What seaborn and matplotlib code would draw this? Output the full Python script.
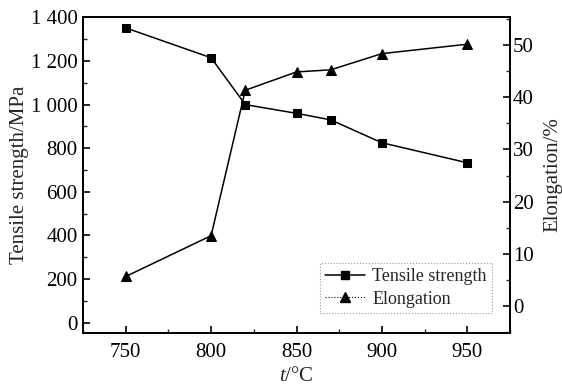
import matplotlib
matplotlib.use("Agg")
import matplotlib.pyplot as plt
import seaborn as sns
import pandas as pd
from matplotlib.ticker import MultipleLocator, FuncFormatter
from matplotlib.lines import Line2D

temperature = [750, 800, 820, 850, 870, 900, 950]
tensile_strength = [1352, 1215, 1000, 960, 930, 825, 733]
elongation = [5.7, 13.5, 41.3, 44.8, 45.2, 48.3, 50.1]

sns.set_theme(style="white")
plt.rcParams['font.family'] = ['Liberation Serif', 'DejaVu Serif']
plt.rcParams['mathtext.fontset'] = 'custom'
plt.rcParams['mathtext.it'] = 'Liberation Serif:italic'
plt.rcParams['mathtext.rm'] = 'Liberation Serif'

df = pd.DataFrame({"t": temperature, "ts": tensile_strength, "el": elongation})

fig = plt.figure(figsize=(5.62, 3.91), dpi=100)
ax = fig.add_axes([83/562, 1-333/391, (510-83)/562, (333-17)/391])
ax2 = ax.twinx()

sns.lineplot(data=df, x="t", y="ts", ax=ax, color="black", marker="s", markersize=6,
             markeredgecolor="black", linewidth=1.1, legend=False)
sns.lineplot(data=df, x="t", y="el", ax=ax2, color="black", marker="^", markersize=7,
             markeredgecolor="black", linewidth=1.1, legend=False)

ax.set_xlim(725, 975)
ax.set_ylim(-48, 1402)
ax2.set_ylim(-5.1, 55.3)

ax.xaxis.set_major_locator(MultipleLocator(50))
ax.xaxis.set_minor_locator(MultipleLocator(25))
ax.yaxis.set_major_locator(MultipleLocator(200))
ax.yaxis.set_minor_locator(MultipleLocator(100))
ax2.yaxis.set_major_locator(MultipleLocator(10))
ax2.yaxis.set_minor_locator(MultipleLocator(5))

def fmt(v, pos):
    v = int(round(v))
    if v >= 1000:
        return f"{v//1000} {v%1000:03d}"
    return str(v)
ax.yaxis.set_major_formatter(FuncFormatter(fmt))

for a in (ax, ax2):
    for s in a.spines.values():
        s.set_linewidth(1.3)
        s.set_color("black")
ax.tick_params(axis="both", which="major", direction="in", length=5, width=1.2,
               labelsize=15, colors="black", pad=4)
ax.tick_params(axis="x", which="major", pad=7)
ax.tick_params(axis="both", which="minor", direction="in", length=3, width=1.0)
ax.tick_params(axis="y", left=True, right=False)
ax.tick_params(axis="x", bottom=True, top=False)
ax.tick_params(axis="x", which="minor", bottom=True)
ax.tick_params(axis="y", which="minor", left=True)
ax2.tick_params(axis="y", which="major", direction="in", length=5, width=1.2,
                labelsize=15, colors="black", right=True, pad=2)
ax2.tick_params(axis="y", which="minor", direction="in", length=3, width=1.0, right=True)

ax.set_xlabel("$t$/°C", fontsize=15, labelpad=4)
ax.set_ylabel("Tensile strength/MPa", fontsize=15, labelpad=1)
ax2.set_ylabel("Elongation/%", fontsize=15, labelpad=7)

handles = [Line2D([], [], color="black", marker="s", markersize=6, linewidth=1.1),
           Line2D([], [], color="black", marker="^", markersize=7, linewidth=0.8, linestyle=":")]
leg = ax2.legend(handles, ["Tensile strength", "Elongation"], loc="upper right",
                 bbox_to_anchor=(0.958, 0.222), fontsize=13, frameon=True,
                 fancybox=False, handlelength=2.2, borderpad=0.3, labelspacing=0.3,
                 handletextpad=0.4, borderaxespad=0)
leg.get_frame().set_edgecolor("gray")
leg.get_frame().set_linestyle(":")
leg.get_frame().set_linewidth(0.8)

fig.savefig("out.png", dpi=100)
